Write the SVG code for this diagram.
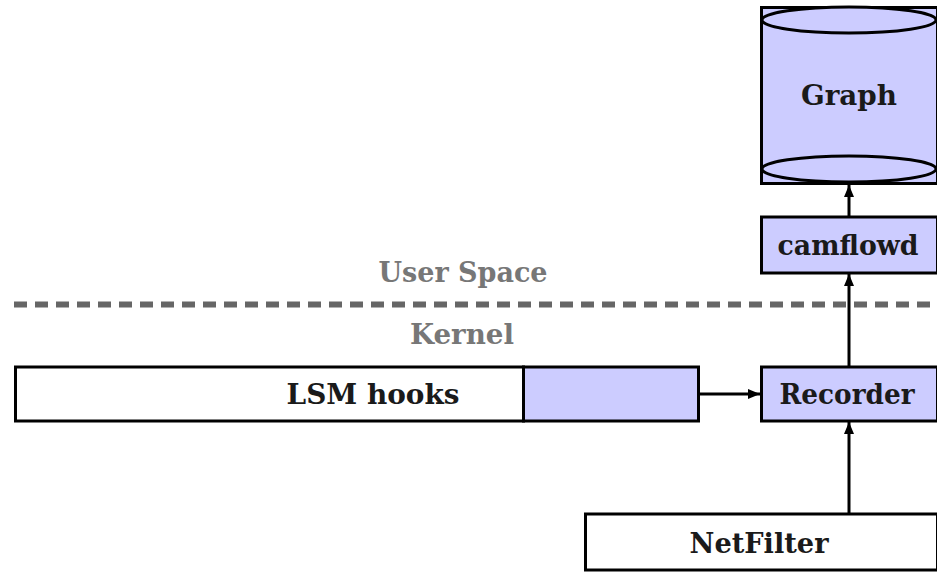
<svg xmlns="http://www.w3.org/2000/svg" width="937" height="572" viewBox="0 0 937 572">
<style>
.box{stroke:#000;stroke-width:3}
.fill{fill:#ccccff}
.white{fill:#fff}
.lbl{font-family:"DejaVu Serif",serif;font-weight:bold;font-size:27px;fill:#1a1a1a;text-anchor:middle;dominant-baseline:central}
.gray{font-family:"DejaVu Serif",serif;font-weight:bold;font-size:27px;fill:#777;text-anchor:middle;dominant-baseline:central}
.conn{stroke:#000;stroke-width:3;fill:none;marker-end:url(#ah)}
</style>
<defs>
<marker id="ah" viewBox="0 0 12 10" refX="12" refY="5" markerWidth="12" markerHeight="10" markerUnits="userSpaceOnUse" orient="auto">
<path d="M0,0 L12,5 L0,10 z" fill="#000"/>
</marker>
</defs>
<rect width="937" height="572" fill="#fff"/>
<line x1="14" y1="304.5" x2="937" y2="304.5" stroke="#666" stroke-width="6" stroke-dasharray="13 8"/>
<text class="gray" x="463" y="272" textLength="169" lengthAdjust="spacingAndGlyphs">User Space</text>
<text class="gray" x="462" y="334" textLength="104" lengthAdjust="spacingAndGlyphs">Kernel</text>
<g id="graph">
<rect class="box fill" x="761.5" y="7.5" width="176" height="176"/>
<ellipse class="box fill" cx="849" cy="20" rx="87" ry="13"/>
<ellipse class="box fill" cx="849" cy="169" rx="87" ry="13"/>
<text class="lbl" x="849" y="95" textLength="96" lengthAdjust="spacingAndGlyphs">Graph</text>
</g>
<g id="camflowd">
<rect class="box fill" x="761.5" y="217" width="176" height="56"/>
<text class="lbl" x="848" y="245" textLength="141" lengthAdjust="spacingAndGlyphs">camflowd</text>
</g>
<g id="recorder">
<rect class="box fill" x="761.5" y="367" width="176" height="54"/>
<text class="lbl" x="847" y="394" textLength="135" lengthAdjust="spacingAndGlyphs">Recorder</text>
</g>
<g id="lsm">
<rect class="box white" x="15.5" y="367" width="508" height="54"/>
<rect class="box fill" x="523.5" y="367" width="175" height="54"/>
<text class="lbl" x="373" y="394" textLength="173" lengthAdjust="spacingAndGlyphs">LSM hooks</text>
</g>
<g id="netfilter">
<rect class="box white" x="585.5" y="514" width="352" height="56"/>
<text class="lbl" x="759" y="543" textLength="139" lengthAdjust="spacingAndGlyphs">NetFilter</text>
</g>
<g id="connectors">
<line class="conn" x1="849" y1="216" x2="849" y2="185"/>
<line class="conn" x1="849" y1="366" x2="849" y2="274"/>
<line class="conn" x1="700" y1="394" x2="760" y2="394"/>
<line class="conn" x1="849" y1="513" x2="849" y2="422"/>
</g>
</svg>
